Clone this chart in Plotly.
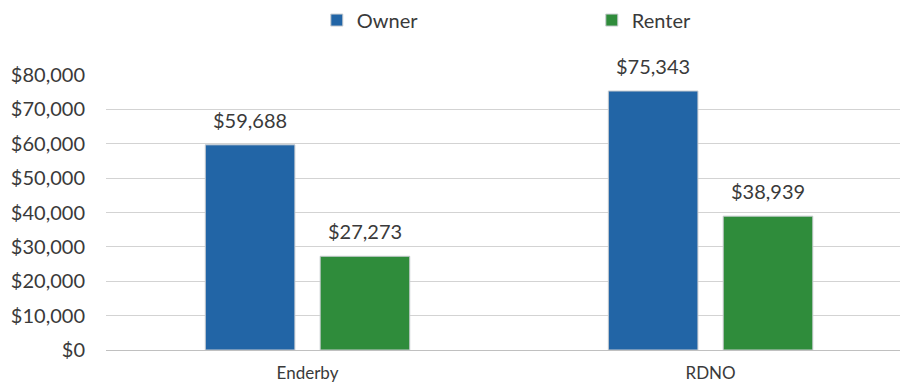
import plotly.graph_objects as go

# Median household income by tenure
categories = ["Enderby", "RDNO"]
owner_income = [59688, 75343]
renter_income = [27273, 38939]
y_ticks = [0, 10000, 20000, 30000, 40000, 50000, 60000, 70000, 80000]
y_tick_labels = ["$0", "$10,000", "$20,000", "$30,000", "$40,000",
                 "$50,000", "$60,000", "$70,000", "$80,000"]

FONT = "Lato"
TEXT_COLOR = "#3a3a3a"
BAR_OFFSET_PX = 57.5  # half the distance between paired bar centres


def money(v):
    return "${:,}".format(v)


fig = go.Figure()
series = [
    ("Owner", owner_income, "#2265a6", -BAR_OFFSET_PX),
    ("Renter", renter_income, "#2f8c3b", BAR_OFFSET_PX),
]
for name, values, color, shift in series:
    fig.add_trace(go.Bar(
        name=name, x=categories, y=values,
        marker=dict(color=color, line=dict(color="#c8ccd0", width=1)),
    ))
    # value labels sit a little above each bar
    for cat, v in zip(categories, values):
        fig.add_annotation(
            x=cat, y=v, xref="x", yref="y", text=money(v),
            showarrow=False, xanchor="center", yanchor="bottom",
            xshift=shift, yshift=11,
            font=dict(family=FONT, size=20, color=TEXT_COLOR),
        )

fig.update_layout(
    width=900, height=386,
    margin=dict(l=106, r=0, t=75, b=36, autoexpand=False),
    paper_bgcolor="white", plot_bgcolor="white",
    barmode="group", bargap=0.43, bargroupgap=0.22,
    font=dict(family=FONT, color=TEXT_COLOR),
    legend=dict(
        orientation="h", xref="container", yref="container",
        x=0.352, xanchor="left", y=0.948, yanchor="middle",
        font=dict(family=FONT, size=20, color=TEXT_COLOR),
        entrywidth=230, entrywidthmode="pixels",
        itemclick=False, traceorder="normal",
    ),
    xaxis=dict(
        range=[-0.5, 1.47], showgrid=False, showline=False, zeroline=False,
        tickfont=dict(family=FONT, size=17, color=TEXT_COLOR),
        ticks="", ticklabelstandoff=11,
    ),
    yaxis=dict(
        range=[0, 80000], tickvals=y_ticks, ticktext=y_tick_labels,
        showgrid=True, gridcolor="#d3d3d3", gridwidth=1,
        zeroline=True, zerolinecolor="#c0c0c0", zerolinewidth=1,
        tickfont=dict(family=FONT, size=20, color=TEXT_COLOR),
        ticks="", ticklabelstandoff=20,
    ),
)

fig.write_html("out.html")
